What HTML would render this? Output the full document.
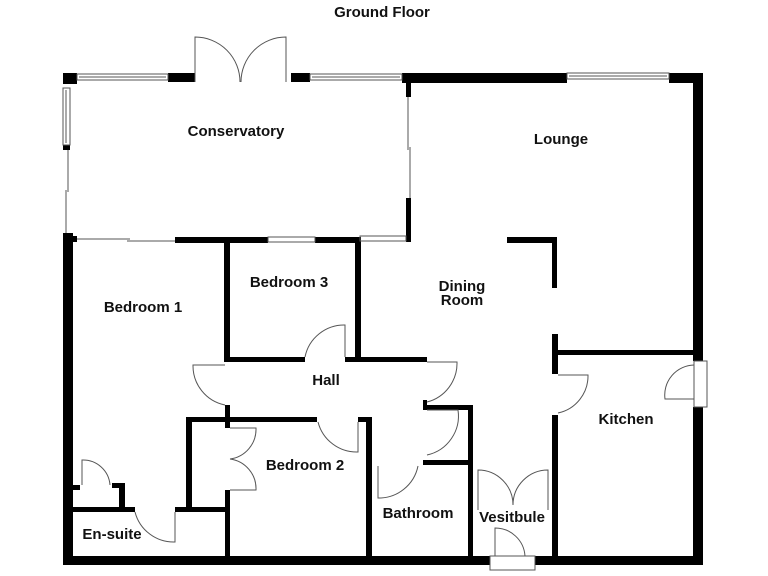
<!DOCTYPE html>
<html><head><meta charset="utf-8"><style>
html,body{margin:0;padding:0;background:#fff;width:768px;height:576px;overflow:hidden}
text{font-family:"Liberation Sans",Arial,sans-serif;font-weight:bold;font-size:15px;fill:#111}
</style></head><body>
<svg width="768" height="576" viewBox="0 0 768 576" xmlns="http://www.w3.org/2000/svg">
<text x="382" y="17" text-anchor="middle" font-size="16">Ground Floor</text>
<g fill="#000">
<rect x="63" y="73" width="14" height="11"/>
<rect x="168" y="73" width="27" height="9"/>
<rect x="291" y="73" width="19" height="9"/>
<rect x="402" y="73" width="165" height="10"/>
<rect x="669" y="73" width="34" height="10"/>
<rect x="693" y="73" width="10" height="288"/>
<rect x="693" y="407" width="10" height="158"/>
<rect x="63" y="556" width="427" height="9"/>
<rect x="535" y="556" width="168" height="9"/>
<rect x="63" y="145" width="7" height="5"/>
<rect x="63" y="233" width="10" height="332"/>
<rect x="63" y="236" width="14" height="6"/>
<rect x="406" y="73" width="5" height="24"/>
<rect x="406" y="198" width="5" height="44"/>
<rect x="175" y="237" width="93" height="6"/>
<rect x="315" y="237" width="45" height="6"/>
<rect x="224" y="237" width="6" height="125"/>
<rect x="355" y="237" width="6" height="125"/>
<rect x="224" y="357" width="81" height="5"/>
<rect x="345" y="357" width="82" height="5"/>
<rect x="423" y="405" width="50" height="5"/>
<rect x="468" y="405" width="5" height="60"/>
<rect x="423" y="460" width="50" height="5"/>
<rect x="423" y="400" width="4" height="10"/>
<rect x="186" y="417" width="131" height="5"/>
<rect x="358" y="417" width="14" height="5"/>
<rect x="366" y="417" width="6" height="148"/>
<rect x="468" y="460" width="5" height="105"/>
<rect x="186" y="417" width="6" height="93"/>
<rect x="225" y="405" width="5" height="23"/>
<rect x="225" y="490" width="5" height="75"/>
<rect x="63" y="507" width="72" height="5"/>
<rect x="175" y="507" width="55" height="5"/>
<rect x="119" y="483" width="6" height="27"/>
<rect x="112" y="483" width="13" height="5"/>
<rect x="63" y="485" width="17" height="5"/>
<rect x="507" y="237" width="50" height="6"/>
<rect x="552" y="237" width="5" height="51"/>
<rect x="552" y="334" width="6" height="40"/>
<rect x="552" y="350" width="141" height="5"/>
<rect x="552" y="415" width="6" height="150"/>
</g>
<g fill="none" stroke="#555" stroke-width="1">
<rect x="77" y="74" width="91" height="6"/><line x1="79" y1="77" x2="166" y2="77"/>
<rect x="310" y="74" width="92" height="6"/><line x1="312" y1="77" x2="400" y2="77"/>
<rect x="567" y="73" width="102" height="6"/><line x1="569" y1="76" x2="667" y2="76"/>
<rect x="63" y="88" width="7" height="57"/><line x1="66" y1="90" x2="66" y2="143"/>
<line x1="68" y1="150" x2="68" y2="192"/><line x1="66" y1="190" x2="66" y2="233"/>
<line x1="408" y1="97" x2="408" y2="150"/><line x1="410" y1="147" x2="410" y2="198"/>
<line x1="77" y1="239" x2="130" y2="239"/><line x1="127" y1="241" x2="175" y2="241"/>
<rect x="268" y="237" width="47" height="5"/>
<rect x="360" y="236" width="46" height="5"/>
<rect x="694" y="361" width="13" height="46"/>
<rect x="490" y="556" width="45" height="14"/>
<path d="M195 82 V37 A45 45 0 0 1 240 82"/>
<path d="M286 82 V37 A45 45 0 0 0 241 82"/>
<path d="M345 357 V325 A40 40 0 0 0 305 357"/>
<path d="M225 365 H193 A40 40 0 0 0 225 405"/>
<path d="M427 362 H457 A40 40 0 0 1 427 402"/>
<path d="M427 410 H458 A40 40 0 0 1 427 455"/>
<path d="M358 422 V452 A40 40 0 0 1 318 422"/>
<path d="M230 428 H256 A30 30 0 0 1 230 459"/>
<path d="M230 490 H256 A30 30 0 0 0 230 459"/>
<path d="M378 466 V498 A40 40 0 0 0 418 466"/>
<path d="M175 512 V542 A40 40 0 0 1 135 512"/>
<path d="M82 485 V460 A27 27 0 0 1 110 485"/>
<path d="M558 375 H588 A38 38 0 0 1 558 413"/>
<path d="M694 365 A30 30 0 0 0 665 399 H694"/>
<path d="M478 510 V470 A35 35 0 0 1 513 505"/>
<path d="M548 510 V470 A35 35 0 0 0 513 505"/>
<path d="M495 556 V528 A30 30 0 0 1 525 556"/>
</g>
<text x="236" y="136" text-anchor="middle">Conservatory</text>
<text x="561" y="144" text-anchor="middle">Lounge</text>
<text x="289" y="287" text-anchor="middle">Bedroom 3</text>
<text x="462" y="291" text-anchor="middle">Dining</text>
<text x="462" y="305" text-anchor="middle">Room</text>
<text x="143" y="312" text-anchor="middle">Bedroom 1</text>
<text x="326" y="385" text-anchor="middle">Hall</text>
<text x="626" y="424" text-anchor="middle">Kitchen</text>
<text x="305" y="470" text-anchor="middle">Bedroom 2</text>
<text x="418" y="518" text-anchor="middle">Bathroom</text>
<text x="512" y="522" text-anchor="middle">Vesitbule</text>
<text x="112" y="539" text-anchor="middle">En-suite</text>
</svg>
</body></html>
